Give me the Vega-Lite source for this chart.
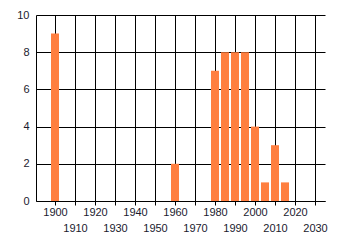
{
  "$schema": "https://vega.github.io/schema/vega-lite/v6.json",
  "autosize": {"type": "none"},
  "padding": {"left": 36, "top": 15, "right": 15, "bottom": 44},
  "width": 289,
  "height": 186,
  "background": "white",
  "config": {
    "view": {"stroke": null},
    "axis": {"labelFont": "Liberation Sans", "labelFontSize": 11, "labelColor": "#1a1a2e", "gridColor": "black", "gridOpacity": 1, "gridWidth": 1, "domainColor": "black", "tickColor": "black", "title": null}
  },
  "data": {
    "values": [
      {"year": 1900, "count": 9},
      {"year": 1960, "count": 2},
      {"year": 1980, "count": 7},
      {"year": 1985, "count": 8},
      {"year": 1990, "count": 8},
      {"year": 1995, "count": 8},
      {"year": 2000, "count": 4},
      {"year": 2005, "count": 1},
      {"year": 2010, "count": 3},
      {"year": 2015, "count": 1}
    ]
  },
  "mark": {"type": "bar", "width": 8, "color": "#ff7f40"},
  "encoding": {
    "x": {
      "field": "year", "type": "quantitative",
      "scale": {"domain": [1890.5, 2035], "nice": false, "zero": false, "padding": 0},
      "axis": {
        "values": [1900, 1910, 1920, 1930, 1940, 1950, 1960, 1970, 1980, 1990, 2000, 2010, 2020, 2030],
        "format": "d",
        "tickSize": 4,
        "labelOverlap": false,
        "labelFlush": false,
        "labelPadding": {"condition": {"test": "datum.value % 20 == 0", "value": 1}, "value": 17},
        "grid": true
      }
    },
    "y": {
      "field": "count", "type": "quantitative",
      "scale": {"domain": [0, 10], "nice": false, "padding": 0},
      "axis": {"values": [0, 2, 4, 6, 8, 10], "tickSize": 0, "labelPadding": 7, "grid": true}
    }
  }
}
